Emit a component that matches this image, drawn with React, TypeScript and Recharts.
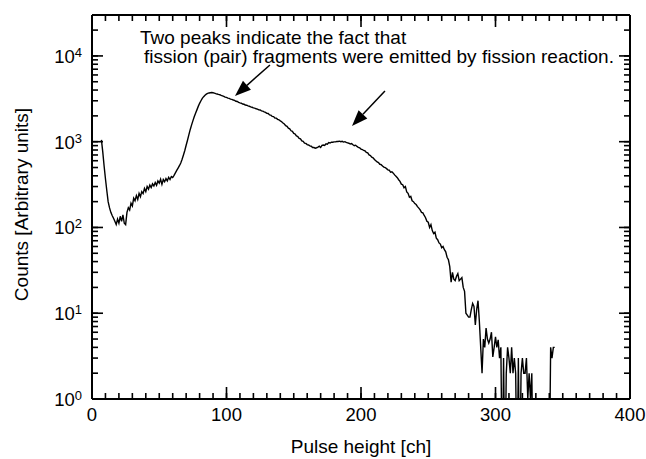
import React from 'react';
import { LineChart, Line, XAxis, YAxis, ReferenceLine } from 'recharts';

// Pulse-height spectrum: counts per channel, starting at channel 7 (0 = empty channel)
const FIRST_CHANNEL = 7;
const counts: number[] = [
  1050, 760, 520, 370, 270, 200, 170, 150, 138, 128,
  118, 108, 125, 112, 135, 118, 140, 112, 108, 150,
  170, 160, 192, 178, 220, 205, 235, 212, 250, 228,
  262, 248, 285, 262, 300, 280, 312, 292, 322, 305,
  335, 310, 348, 328, 365, 318, 362, 342, 372, 350,
  385, 362, 392, 382, 405, 432, 462, 492, 525, 565,
  625, 700, 790, 910, 1040, 1200, 1380, 1560, 1750, 1950,
  2150, 2350, 2580, 2800, 3000, 3200, 3350, 3480, 3580, 3650,
  3700, 3720, 3740, 3720, 3690, 3640, 3600, 3560, 3530, 3460,
  3420, 3380, 3310, 3280, 3220, 3200, 3140, 3110, 3060, 3030,
  2960, 2940, 2870, 2830, 2810, 2750, 2730, 2680, 2660, 2610,
  2590, 2550, 2520, 2480, 2460, 2420, 2400, 2350, 2345, 2290,
  2270, 2230, 2200, 2140, 2130, 2050, 2040, 1970, 1960, 1890,
  1880, 1820, 1800, 1750, 1710, 1650, 1610, 1540, 1510, 1440,
  1410, 1340, 1320, 1250, 1230, 1170, 1150, 1090, 1080, 1020,
  1010, 960, 955, 925, 915, 895, 885, 855, 855, 840,
  850, 865, 885, 855, 905, 915, 905, 945, 935, 975,
  965, 985, 985, 995, 995, 1005, 1005, 1015, 1000, 1010,
  990, 1000, 980, 970, 960, 940, 950, 920, 900, 910,
  880, 860, 850, 820, 810, 790, 780, 750, 740, 700,
  690, 660, 650, 620, 600, 580, 570, 545, 540, 520,
  505, 500, 485, 470, 465, 440, 445, 430, 410, 395,
  380, 360, 345, 320, 315, 290, 300, 260, 250, 225,
  230, 205, 200, 190, 185, 175, 168, 160, 150, 148,
  138, 130, 118, 115, 100, 108, 92, 85, 88, 75,
  72, 66, 64, 58, 60, 55, 52, 45, 42, 35,
  23, 30, 25, 24, 27, 29, 24, 25, 26, 20,
  18, 10, 9.5, 9, 9, 11, 13, 12, 7.3, 11,
  14, 8, 4, 2, 5, 4, 6.7, 5, 4.5, 5,
  6, 3.1, 4, 5.3, 4, 4.9, 3, 4, 0, 3,
  0, 2, 4, 3, 2, 4, 2, 3, 2, 0,
  3, 0, 2, 3, 2, 2, 3, 1, 2, 1,
  2, 0, 1, 1, 1, 0, 0, 0, 0, 0,
  0, 0, 0, 0, 4, 3, 4, 4,
];

const xTicks: number[] = [
  0, 10, 20, 30, 40, 50, 60, 70, 80, 90,
  100, 110, 120, 130, 140, 150, 160, 170, 180, 190,
  200, 210, 220, 230, 240, 250, 260, 270, 280, 290,
  300, 310, 320, 330, 340, 350, 360, 370, 380, 390, 400,
];
const xMajor = [0, 100, 200, 300, 400];

const yTicks: number[] = [
  1, 2, 3, 4, 5, 6, 7, 8, 9,
  10, 20, 30, 40, 50, 60, 70, 80, 90,
  100, 200, 300, 400, 500, 600, 700, 800, 900,
  1000, 2000, 3000, 4000, 5000, 6000, 7000, 8000, 9000,
  10000, 20000,
];
const yMajor = [1, 10, 100, 1000, 10000];

// Annotation arrows in data coordinates: [tail, head]
const arrowPeak1 = [{ x: 132.3, y: 7850 }, { x: 106.3, y: 3415 }];
const arrowPeak2 = [{ x: 217.8, y: 3910 }, { x: 193.3, y: 1527 }];

const noteLine1 = 'Two peaks indicate the fact that';
const noteLine2 = 'fission (pair) fragments were emitted by fission reaction.';
const xTitle = 'Pulse height [ch]';
const yTitle = 'Counts [Arbitrary units]';

const data = counts.map((c, i) => ({ ch: FIRST_CHANNEL + i, counts: c }));

const FONT = '"Liberation Sans", Arial, Helvetica, sans-serif';
const MINOR = 6; // built-in tick line length, pointing into the plot (negative tickSize)
const MAJOR = 12; // decade / hundred ticks are extended to this length
const TW = 1.6;

// empty channels are pushed below the axis floor and clipped
const plotCounts = (d: { counts: number }) => (d.counts > 0 ? d.counts : 0.1);

// The tick props' (x, y) sit at the inner end of the built-in tick line,
// i.e. MINOR px inside the frame.
const BottomTick = (p: any) => {
  if (!xMajor.includes(p.payload.value)) return <g />;
  const axisY = p.y + MINOR;
  return (
    <g>
      <rect x={p.x - TW / 2} y={axisY - MAJOR} width={TW} height={MAJOR} fill="#000" />
      <text x={p.x} y={axisY + 22} textAnchor="middle" fontSize={18.5} fontFamily={FONT} fill="#000">
        {p.payload.value}
      </text>
    </g>
  );
};

const TopTick = (p: any) => {
  if (!xMajor.includes(p.payload.value)) return <g />;
  const axisY = p.y - MINOR;
  return <rect x={p.x - TW / 2} y={axisY} width={TW} height={MAJOR} fill="#000" />;
};

const LeftTick = (p: any) => {
  const v = p.payload.value;
  if (!yMajor.includes(v)) return <g />;
  const axisX = p.x - MINOR;
  return (
    <g>
      <rect x={axisX} y={p.y - TW / 2} width={MAJOR - 1} height={TW} fill="#000" />
      <text x={axisX - 10} y={p.y + 7} textAnchor="end" fontSize={18.5} fontFamily={FONT} fill="#000">
        <tspan>10</tspan>
        <tspan dy={-6} fontSize={13}>{Math.round(Math.log10(v))}</tspan>
      </text>
    </g>
  );
};

const RightTick = (p: any) => {
  if (!yMajor.includes(p.payload.value)) return <g />;
  const axisX = p.x + MINOR;
  return <rect x={axisX - (MAJOR - 1)} y={p.y - TW / 2} width={MAJOR - 1} height={TW} fill="#000" />;
};

const Arrow = (props: any) => {
  const { x1, y1, x2, y2 } = props;
  const dx = x2 - x1;
  const dy = y2 - y1;
  const len = Math.hypot(dx, dy) || 1;
  const ux = dx / len;
  const uy = dy / len;
  const headLen = 16;
  const headHalf = 6;
  const bx = x2 - ux * headLen;
  const by = y2 - uy * headLen;
  const px = -uy;
  const py = ux;
  return (
    <g>
      <line x1={x1} y1={y1} x2={bx} y2={by} stroke="#000" strokeWidth={1.5} />
      <polygon
        points={`${x2},${y2} ${bx + px * headHalf},${by + py * headHalf} ${bx - px * headHalf},${by - py * headHalf}`}
        fill="#000"
      />
    </g>
  );
};

const axisLine = { stroke: '#000', strokeWidth: 2 };
const tickLine = { stroke: '#000', strokeWidth: TW };

const textStyle: React.CSSProperties = {
  position: 'absolute',
  fontFamily: FONT,
  fontSize: 19,
  lineHeight: '19px',
  color: '#000',
  whiteSpace: 'nowrap',
};

export default function App() {
  return (
    <div style={{ position: 'absolute', left: 0, top: 0, width: 646, height: 459, background: '#fff' }}>
      <div style={{ ...textStyle, left: 140, top: 28 }}>{noteLine1}</div>
      <div style={{ ...textStyle, left: 144, top: 47 }}>{noteLine2}</div>
      <div style={{ ...textStyle, left: 0, width: 722, top: 437, textAlign: 'center' }}>{xTitle}</div>
      <div
        style={{
          ...textStyle,
          left: 21 - 150,
          width: 300,
          top: 205 - 10,
          textAlign: 'center',
          transform: 'rotate(-90deg)',
        }}
      >
        {yTitle}
      </div>
      <div style={{ position: 'absolute', left: 0, top: 0 }}>
        <LineChart width={646} height={459} data={data} margin={{ top: 0, right: 0, bottom: 0, left: 0 }}>
          <XAxis
            dataKey="ch"
            type="number"
            domain={[0, 400]}
            allowDataOverflow
            ticks={xTicks}
            interval={0}
            tickSize={-MINOR}
            tickMargin={0}
            tickLine={tickLine}
            axisLine={axisLine}
            tick={(p: any) => <BottomTick {...p} />}
            height={60}
          />
          <XAxis
            xAxisId="top"
            orientation="top"
            dataKey="ch"
            type="number"
            domain={[0, 400]}
            allowDataOverflow
            ticks={xTicks}
            interval={0}
            tickSize={-MINOR}
            tickMargin={0}
            tickLine={tickLine}
            axisLine={axisLine}
            tick={(p: any) => <TopTick {...p} />}
            height={15}
          />
          <YAxis
            type="number"
            scale="log"
            domain={[1, 30000]}
            allowDataOverflow
            ticks={yTicks}
            interval={0}
            tickSize={-MINOR}
            tickMargin={0}
            tickLine={tickLine}
            axisLine={axisLine}
            tick={(p: any) => <LeftTick {...p} />}
            width={92}
          />
          <YAxis
            yAxisId="right"
            orientation="right"
            type="number"
            scale="log"
            domain={[1, 30000]}
            allowDataOverflow
            ticks={yTicks}
            interval={0}
            tickSize={-MINOR}
            tickMargin={0}
            tickLine={tickLine}
            axisLine={axisLine}
            tick={(p: any) => <RightTick {...p} />}
            width={16}
          />
          <Line
            dataKey={plotCounts}
            type="linear"
            stroke="#000"
            strokeWidth={1.4}
            dot={false}
            isAnimationActive={false}
          />
          <ReferenceLine segment={arrowPeak1} ifOverflow="visible" shape={(p: any) => <Arrow {...p} />} />
          <ReferenceLine segment={arrowPeak2} ifOverflow="visible" shape={(p: any) => <Arrow {...p} />} />
        </LineChart>
      </div>
    </div>
  );
}
